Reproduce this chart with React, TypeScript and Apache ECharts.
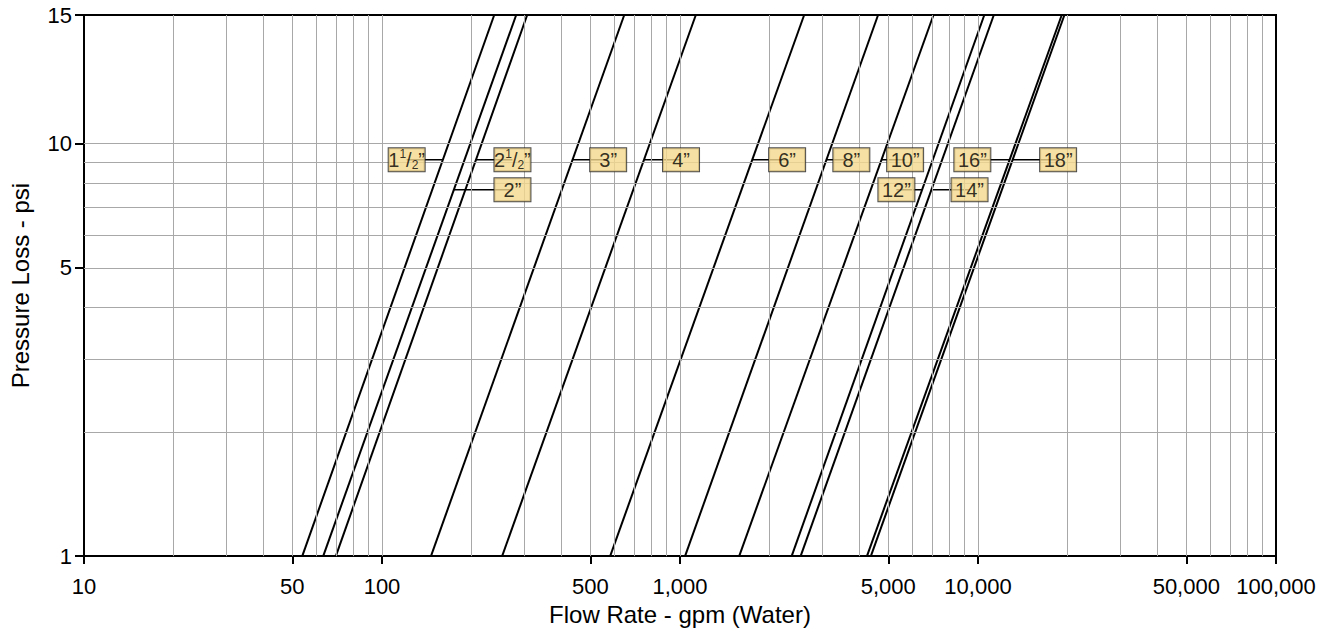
import React, { useEffect, useRef } from 'react';
import * as echarts from 'echarts';

// ---------------- data ----------------
const pipeNames = ['1-1/2"', '2"', '2-1/2"', '3"', '4"', '6"', '8"', '10"', '12"', '14"', '16"', '18"'];
// flow (gpm) where each pipe line crosses the bottom (1 psi) and the top of the chart
const flowAtBottom = [54, 63.5, 70, 146, 253, 583, 1040, 1580, 2370, 2540, 4240, 4370];
const flowAtTop = [238, 282, 307, 650, 1130, 2610, 4620, 7090, 10500, 11300, 19100, 19500];
const PSI_BOTTOM = 1;
const PSI_TOP = 20.5;

// callout boxes: pressure level and flow of box centre
const labelPsi = [9.14, 7.73, 9.14, 9.14, 9.14, 9.14, 9.14, 9.14, 7.73, 7.73, 9.14, 9.14];
const labelFlow = [121, 274, 274, 574, 1008, 2288, 3758, 5694, 5323, 9367, 9572, 18570];

// axes
const X_MIN = 10;
const X_MAX = 100000;
const xTickValues = [10, 50, 100, 500, 1000, 5000, 10000, 50000, 100000];
const yTickValues = [1, 5, 10, PSI_TOP];
const yTickLabels = ['1', '5', '10', '15'];
const gridMultipliers = [1, 2, 3, 4, 5, 6, 7, 8, 9];
const gridDecades = [10, 100, 1000, 10000];
const yGridValues = [2, 3, 4, 5, 6, 7, 8, 9, 10];

const FONT = "'Liberation Sans Narrow', 'Arial Narrow', 'Liberation Sans', Arial, sans-serif";

const L = Math.log10;

function crossFlow(i: number, psi: number) {
  const t = (L(psi) - L(PSI_BOTTOM)) / (L(PSI_TOP) - L(PSI_BOTTOM));
  return Math.pow(10, L(flowAtBottom[i]) + t * (L(flowAtTop[i]) - L(flowAtBottom[i])));
}

function richName(name: string) {
  if (name.includes('-')) {
    const [whole, frac] = name.replace('"', '').split('-');
    const [num, den] = frac.split('/');
    return `{n|${whole}}{s|${num}}{n|/}{b|${den}}{n|\u201D}`;
  }
  return `{n|${name.replace('"', '\u201D')}}`;
}

export default function App() {
  const ref = useRef<HTMLDivElement>(null);
  useEffect(() => {
    if (!ref.current) return;
    const chart = echarts.init(ref.current, undefined, { renderer: 'svg' });

    const xGridValues: number[] = [];
    gridDecades.forEach((d) => gridMultipliers.forEach((m) => {
      const v = d * m;
      if (v > X_MIN && v < X_MAX) xGridValues.push(v);
    }));

    const pipeSeries = pipeNames.map((name, i) => ({
      type: 'line',
      name,
      xAxisIndex: 0,
      yAxisIndex: 0,
      data: [[flowAtBottom[i], PSI_BOTTOM], [flowAtTop[i], PSI_TOP]],
      symbol: 'none',
      silent: true,
      z: 3,
      lineStyle: { color: '#000', width: 2 },
    }));

    const leaderSeries = pipeNames.map((name, i) => ({
      type: 'line',
      name: name + ' leader',
      xAxisIndex: 0,
      yAxisIndex: 0,
      data: [[crossFlow(i, labelPsi[i]), labelPsi[i]], [labelFlow[i], labelPsi[i]]],
      symbol: 'none',
      silent: true,
      z: 4,
      lineStyle: { color: '#000', width: 1.5 },
    }));

    const option: any = {
      animation: false,
      backgroundColor: '#fff',
      grid: { left: 79, right: 54, top: 15, bottom: 66, show: true, borderColor: '#000', borderWidth: 2 },
      xAxis: [
        { type: 'log', logBase: 10, min: X_MIN, max: X_MAX, show: false },
        {
          type: 'value', position: 'bottom', min: L(X_MIN), max: L(X_MAX),
          name: 'Flow Rate - gpm (Water)', nameLocation: 'middle', nameGap: 37,
          nameTextStyle: { fontFamily: FONT, fontSize: 24, color: '#000' },
          axisLine: { show: true, lineStyle: { color: '#000', width: 2 } },
          axisTick: { show: true, customValues: xTickValues.map(L), length: 8, lineStyle: { color: '#000', width: 2 } },
          axisLabel: {
            customValues: xTickValues.map(L), margin: 19, fontFamily: FONT, fontSize: 22, color: '#000',
            formatter: (v: number) => Math.round(Math.pow(10, v)).toLocaleString('en-US'),
          },
          splitLine: { show: false },
        },
      ],
      yAxis: [
        { type: 'log', logBase: 10, min: PSI_BOTTOM, max: PSI_TOP, show: false },
        {
          type: 'value', position: 'left', min: L(PSI_BOTTOM), max: L(PSI_TOP),
          name: 'Pressure Loss - psi', nameLocation: 'middle', nameGap: 52,
          nameTextStyle: { fontFamily: FONT, fontSize: 24, color: '#000' },
          axisLine: { show: true, lineStyle: { color: '#000', width: 2 } },
          axisTick: { show: true, customValues: yTickValues.map(L), length: 9, lineStyle: { color: '#000', width: 2 } },
          axisLabel: {
            customValues: yTickValues.map(L), margin: 12, fontFamily: FONT, fontSize: 22, color: '#000',
            formatter: (v: number) => {
              const i = yTickValues.findIndex((t) => Math.abs(L(t) - v) < 1e-6);
              return i >= 0 ? yTickLabels[i] : '';
            },
          },
          splitLine: { show: false },
        },
      ],
      series: [
        {
          type: 'line',
          name: 'grid',
          xAxisIndex: 0,
          yAxisIndex: 0,
          data: [],
          silent: true,
          z: 1,
          markLine: {
            silent: true,
            symbol: ['none', 'none'],
            label: { show: false },
            lineStyle: { color: '#a8a8a8', width: 1, type: 'solid' },
            data: [
              ...xGridValues.map((v) => ({ xAxis: v })),
              ...yGridValues.map((v) => ({ yAxis: v })),
            ],
          },
        },
        ...pipeSeries,
        ...leaderSeries,
        {
          type: 'scatter',
          name: 'labels',
          xAxisIndex: 0,
          yAxisIndex: 0,
          z: 6,
          silent: true,
          symbolSize: 1,
          itemStyle: { color: 'rgba(0,0,0,0)' },
          data: labelFlow.map((q, i) => ({ value: [q, labelPsi[i]], name: pipeNames[i] })),
          label: {
            show: true,
            position: 'inside',
            formatter: (p: any) => richName(p.name),
            backgroundColor: '#f5d88c',
            borderColor: '#222',
            borderWidth: 1,
            width: 36,
            height: 23,
            lineHeight: 23,
            align: 'center',
            verticalAlign: 'middle',
            color: '#000',
            fontFamily: FONT,
            fontSize: 20,
            rich: {
              n: { fontFamily: FONT, fontSize: 20, color: '#000', lineHeight: 23 },
              s: { fontFamily: FONT, fontSize: 12, color: '#000', lineHeight: 13, verticalAlign: 'top' },
              b: { fontFamily: FONT, fontSize: 12, color: '#000', lineHeight: 12, verticalAlign: 'bottom' },
            },
          },
        },
      ],
    };
    chart.setOption(option);
    return () => chart.dispose();
  }, []);
  return <div ref={ref} style={{ position: 'fixed', left: 0, top: 0, width: 1330, height: 631 }} />;
}
